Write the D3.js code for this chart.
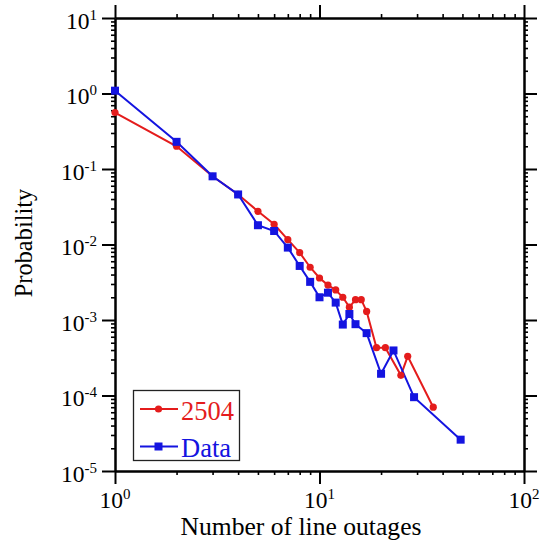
<!DOCTYPE html>
<html>
<head>
<meta charset="utf-8">
<script src="https://cdn.jsdelivr.net/npm/d3@7/dist/d3.min.js"></script>
<style>
html,body{margin:0;padding:0;background:#fff;}
svg{display:block;}
text{font-family:"Liberation Serif","Times New Roman",serif;}
</style>
</head>
<body>
<svg id="chart" width="541" height="541"></svg>
<script>
// ---- data ----
const redX = [1,2,3,4,5,6,7,8,9,10,11,12,13,14,15,16,17,19,21,25,27,36];
const redY = [0.56,0.20,0.080,0.046,0.0275,0.0185,0.0116,0.0078,0.0050,0.0036,0.0029,0.0025,0.0020,0.00148,0.00186,0.00186,0.0013,0.00043,0.00043,0.000185,0.00033,0.00007];
const blueX = [1,2,3,4,5,6,7,8,9,10,11,12,13,14,15,17,20,23,29,49];
const blueY = [1.09,0.229,0.080,0.046,0.018,0.0151,0.0091,0.0052,0.0032,0.0020,0.0023,0.0017,0.00087,0.0012,0.00088,0.00067,0.000194,0.000395,0.000095,0.000026];
const xMajor = [1,10,100];
const xMajorExp = ["0","1","2"];
const yMajor = [1e-5,1e-4,1e-3,1e-2,1e-1,1,10];
const yMajorExp = ["-5","-4","-3","-2","-1","0","1"];
const seriesNames = ["2504","Data"];
const xTitle = "Number of line outages";
const yTitle = "Probability";

const redColor = "#e41c1c", blueColor = "#1414e0";

const svg = d3.select("#chart");
const L = 115, R = 524, T = 18, B = 471;
const x = d3.scaleLog().domain([1,100]).range([L,R]);
const y = d3.scaleLog().domain([1e-5,10]).range([B,T]);

const xMinor = [], yMinor = [];
[1,10].forEach(d=>{ for(let k=2;k<=9;k++) xMinor.push(k*d); });
yMajor.slice(0,-1).forEach(d=>{ for(let k=2;k<=9;k++) yMinor.push(k*d); });

function styleAxis(g, w){
  g.selectAll("path.domain").attr("stroke","#000").attr("stroke-width",2);
  g.selectAll(".tick line").attr("stroke","#000").attr("stroke-width",w);
  g.selectAll(".tick text").remove();
}
const axes = [
  [d3.axisBottom, `translate(0,${B})`, x, xMajor, xMinor],
  [d3.axisTop, `translate(0,${T})`, x, xMajor, xMinor],
  [d3.axisLeft, `translate(${L},0)`, y, yMajor, yMinor],
  [d3.axisRight, `translate(${R},0)`, y, yMajor, yMinor]
];
axes.forEach(([fn, tr, sc, maj, min])=>{
  svg.append("g").attr("transform",tr)
    .call(fn(sc).tickValues(min).tickSize(4).tickSizeOuter(0).tickFormat(""))
    .call(g=>styleAxis(g,1.6));
  svg.append("g").attr("transform",tr)
    .call(fn(sc).tickValues(maj).tickSize(13).tickSizeOuter(0).tickFormat(""))
    .call(g=>styleAxis(g,2));
});

// tick labels
const fs = 23.5, sfs = 15;
xMajor.forEach((v,i)=>{
  const t = svg.append("text").attr("x",x(v)).attr("y",508)
    .attr("text-anchor","middle").attr("font-size",fs).attr("fill","#000");
  t.append("tspan").text("10");
  t.append("tspan").attr("font-size",sfs).attr("dy",-9).text(xMajorExp[i]);
});
yMajor.forEach((v,i)=>{
  const t = svg.append("text").attr("x",97).attr("y",y(v)+10.5)
    .attr("text-anchor","end").attr("font-size",fs).attr("fill","#000");
  t.append("tspan").text("10");
  t.append("tspan").attr("font-size",sfs).attr("dy",-9).text(yMajorExp[i]);
});

// titles
svg.append("text").attr("x",301).attr("y",535).attr("text-anchor","middle")
  .attr("font-size",25.6).attr("fill","#000").text(xTitle);
svg.append("text").attr("transform","translate(32,243) rotate(-90)")
  .attr("text-anchor","middle").attr("font-size",24.4).attr("fill","#000").text(yTitle);

// series
const redData = redX.map((d,i)=>[d,redY[i]]);
const blueData = blueX.map((d,i)=>[d,blueY[i]]);
const line = d3.line().x(d=>x(d[0])).y(d=>y(d[1]));

svg.append("path").datum(redData).attr("d",line).attr("fill","none")
  .attr("stroke",redColor).attr("stroke-width",2);
svg.append("path").datum(blueData).attr("d",line).attr("fill","none")
  .attr("stroke",blueColor).attr("stroke-width",2);
svg.selectAll("circle.red").data(redData).enter().append("circle")
  .attr("cx",d=>x(d[0])).attr("cy",d=>y(d[1])).attr("r",3.6).attr("fill",redColor);
svg.selectAll("rect.blue").data(blueData).enter().append("rect")
  .attr("x",d=>x(d[0])-4).attr("y",d=>y(d[1])-4).attr("width",8).attr("height",8).attr("fill",blueColor);

// legend
const lg = svg.append("g");
lg.append("rect").attr("x",133.5).attr("y",390.5).attr("width",106).attr("height",70)
  .attr("fill","#fff").attr("stroke","#222").attr("stroke-width",1.3);
lg.append("line").attr("x1",140).attr("x2",178).attr("y1",409).attr("y2",409)
  .attr("stroke",redColor).attr("stroke-width",2);
lg.append("circle").attr("cx",158.5).attr("cy",409).attr("r",3.6).attr("fill",redColor);
lg.append("text").attr("x",181).attr("y",419.5).attr("font-size",26.5).attr("fill",redColor).text(seriesNames[0]);
lg.append("line").attr("x1",140).attr("x2",178).attr("y1",446.5).attr("y2",446.5)
  .attr("stroke",blueColor).attr("stroke-width",2);
lg.append("rect").attr("x",154.5).attr("y",442.5).attr("width",8).attr("height",8).attr("fill",blueColor);
lg.append("text").attr("x",181).attr("y",457).attr("font-size",26.5).attr("fill",blueColor).text(seriesNames[1]);
</script>
</body>
</html>
